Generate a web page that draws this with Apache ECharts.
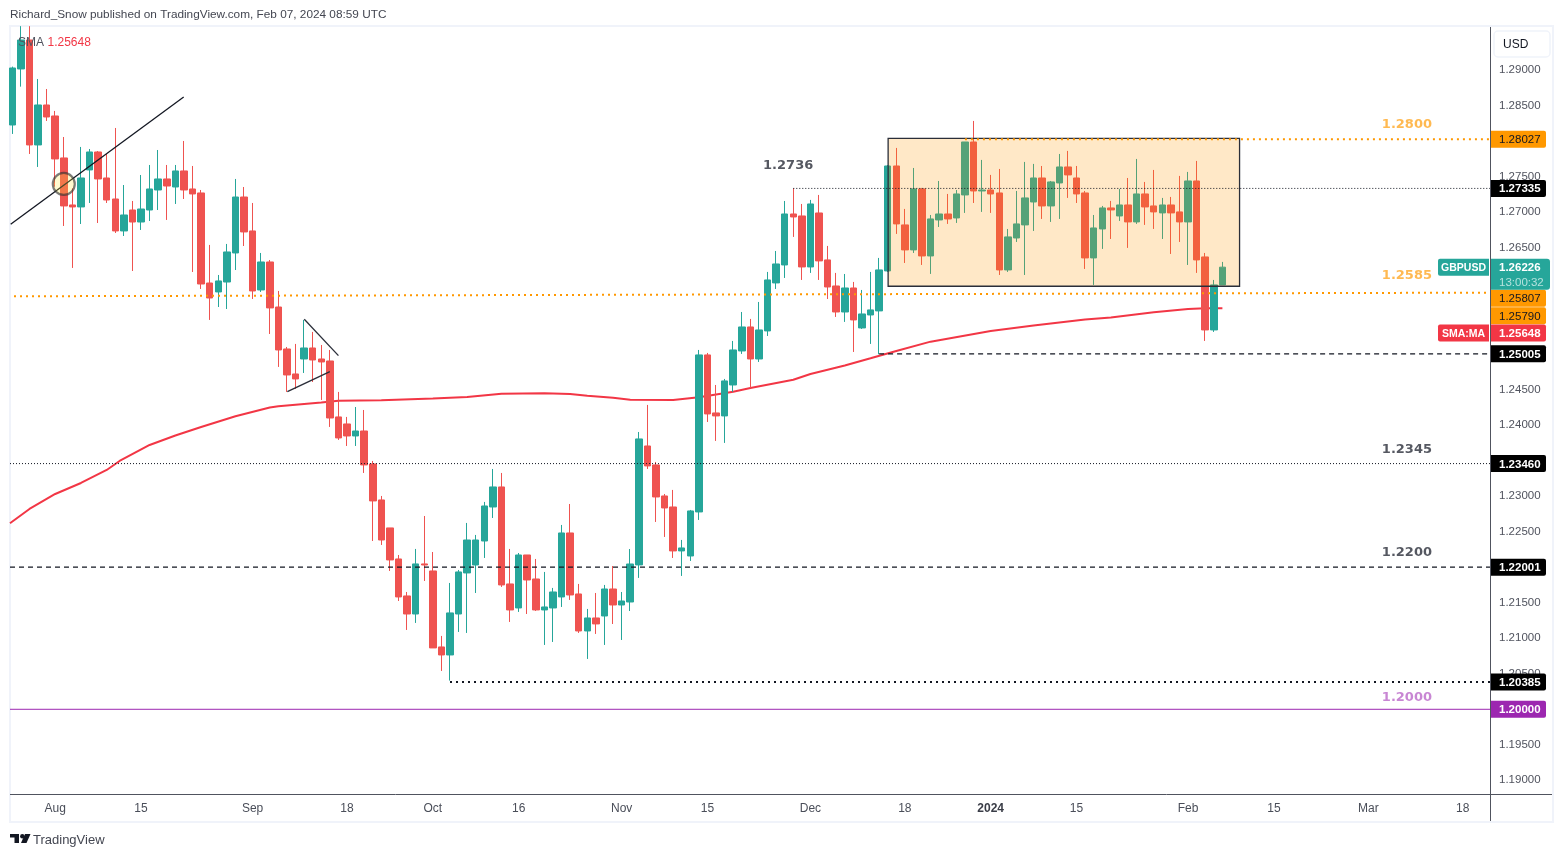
<!DOCTYPE html>
<html><head><meta charset="utf-8">
<style>html,body{margin:0;padding:0;background:#fff}#c{width:1564px;height:857px}</style>
<script src="https://cdn.jsdelivr.net/npm/echarts@6/dist/echarts.min.js"></script>
</head><body><div id="c"></div>
<script>
const opens=[1.28228,1.29017,1.29425,1.27947,1.28510,1.28355,1.27764,1.27102,1.27074,1.27595,
1.27848,1.27482,1.27186,1.26736,1.27031,1.26862,1.27031,1.27313,1.27468,1.27355,
1.27581,1.27327,1.27271,1.26003,1.25877,1.26017,1.26426,1.27214,1.26736,1.25905,
1.26299,1.25665,1.25074,1.24722,1.24933,1.25088,1.24933,1.24905,1.24117,1.24018,
1.23849,1.23919,1.23455,1.22948,1.22554,1.22117,1.21596,1.21342,1.22047,1.21948,
1.20878,1.20765,1.21342,1.21920,1.22032,1.22370,1.22849,1.23131,1.21765,1.21427,
1.22173,1.21835,1.21399,1.21427,1.21582,1.22483,1.21624,1.21103,1.21286,1.21314,
1.21694,1.21469,1.21511,1.22033,1.23708,1.23441,1.23004,1.22849,1.22230,1.22159,
1.22779,1.24990,1.24173,1.24131,1.24567,1.25046,1.25384,1.24933,1.25328,1.26004,
1.26257,1.26975,1.26947,1.26229,1.26989,1.26328,1.25961,1.25595,1.25933,1.25370,
1.25553,1.25610,1.26173,1.27651,1.26821,1.26469,1.27328,1.26384,1.26891,1.26975,
1.26919,1.27243,1.27989,1.27299,1.27313,1.27271,1.26187,1.26637,1.26821,1.27144,
1.27482,1.27088,1.27412,1.27637,1.27482,1.27271,1.26356,1.26764,1.27060,1.26947,
1.27102,1.26863,1.27257,1.27088,1.26990,1.27102,1.27004,1.26863,1.27440,1.26370,
1.25342,1.25976];
const closes=[1.29031,1.29425,1.27947,1.28510,1.28341,1.27750,1.27088,1.27074,1.27482,1.27848,
1.27468,1.27172,1.26736,1.26961,1.26862,1.27045,1.27327,1.27468,1.27369,1.27581,
1.27313,1.27257,1.25989,1.25792,1.26032,1.26440,1.27214,1.26722,1.25891,1.26299,
1.25652,1.25060,1.24708,1.24652,1.25088,1.24919,1.24891,1.24102,1.23821,1.23849,
1.23919,1.23441,1.22934,1.22384,1.22103,1.21582,1.21342,1.22047,1.22032,1.20864,
1.20765,1.21357,1.21934,1.22384,1.22384,1.22863,1.23131,1.21751,1.21399,1.22173,
1.21821,1.21399,1.21441,1.21652,1.22483,1.21610,1.21103,1.21286,1.21202,1.21694,
1.21469,1.21525,1.22046,1.23807,1.23427,1.22990,1.22835,1.22230,1.22272,1.22793,
1.24990,1.24159,1.24131,1.24624,1.25060,1.25384,1.24933,1.25342,1.26046,1.26271,
1.26975,1.26933,1.26229,1.27116,1.26314,1.25947,1.25595,1.25933,1.25483,1.25567,
1.25624,1.26187,1.27651,1.26835,1.26469,1.27328,1.26384,1.26905,1.26975,1.26905,
1.27257,1.27989,1.27299,1.27313,1.27257,1.26187,1.26652,1.26835,1.27201,1.27482,
1.27088,1.27426,1.27637,1.27525,1.27257,1.26356,1.26778,1.27060,1.27032,1.27102,
1.26863,1.27257,1.27074,1.27004,1.27102,1.26990,1.26863,1.27440,1.26328,1.25342,
1.25976,1.26226];
const highs=[1.29050,1.29620,1.29620,1.28876,1.28735,1.28426,1.28059,1.27337,1.27919,1.27890,
1.27862,1.27820,1.28186,1.27383,1.27158,1.27524,1.27665,1.27876,1.27665,1.27665,
1.28003,1.27651,1.27313,1.26539,1.26116,1.26553,1.27468,1.27355,1.27130,1.26426,
1.26327,1.25891,1.25102,1.25145,1.25483,1.25314,1.25130,1.25060,1.24469,1.24117,
1.24257,1.24215,1.23497,1.23004,1.22554,1.22173,1.21652,1.22258,1.22722,1.22215,
1.21033,1.21779,1.21962,1.22624,1.22455,1.22920,1.23384,1.23328,1.22258,1.22201,
1.22173,1.22117,1.21934,1.21709,1.22596,1.22891,1.21765,1.21413,1.21638,1.21751,
1.22018,1.21652,1.22257,1.23905,1.24286,1.23483,1.23032,1.23089,1.22385,1.22807,
1.25060,1.25018,1.24567,1.24652,1.25187,1.25595,1.25497,1.25736,1.26159,1.26454,
1.27158,1.27337,1.27116,1.27173,1.27243,1.26525,1.26145,1.26130,1.26018,1.25905,
1.26159,1.26356,1.27665,1.27905,1.27046,1.27623,1.27342,1.26961,1.27440,1.27257,
1.27313,1.27989,1.28285,1.27736,1.27525,1.27609,1.26764,1.27299,1.27708,1.27680,
1.27651,1.27440,1.27820,1.27863,1.27651,1.27299,1.26961,1.27088,1.27159,1.27328,
1.27482,1.27750,1.27426,1.27595,1.27201,1.27215,1.27511,1.27567,1.27722,1.26426,
1.26046,1.26300];
const lows=[1.28102,1.28768,1.27820,1.27637,1.28285,1.27360,1.26806,1.26215,1.26834,1.27130,
1.26848,1.27130,1.26707,1.26665,1.26172,1.26750,1.26876,1.27031,1.26891,1.27116,
1.27186,1.26158,1.25919,1.25483,1.25665,1.25637,1.26186,1.26524,1.25778,1.25877,
1.25285,1.24821,1.24469,1.24511,1.24736,1.24609,1.24356,1.23976,1.23793,1.23708,
1.23708,1.23328,1.22370,1.22314,1.21948,1.21525,1.21117,1.21216,1.21807,1.20864,
1.20540,1.20404,1.21089,1.21075,1.21638,1.22131,1.22694,1.21723,1.21230,1.21371,
1.21342,1.21385,1.20906,1.20948,1.21441,1.21540,1.21075,1.20709,1.21061,1.20906,
1.21201,1.20976,1.21384,1.21850,1.23384,1.22638,1.22427,1.22131,1.21878,1.22089,
1.22666,1.24046,1.23779,1.23751,1.24469,1.25004,1.24525,1.24891,1.25257,1.25919,
1.26074,1.26652,1.26046,1.26145,1.26046,1.25778,1.25525,1.25455,1.25032,1.25356,
1.25145,1.24999,1.26159,1.26694,1.26285,1.26426,1.26257,1.26131,1.26792,1.26835,
1.26849,1.26990,1.27130,1.27004,1.26990,1.26116,1.26159,1.26581,1.26116,1.26736,
1.26905,1.26863,1.26905,1.27201,1.27130,1.26201,1.25976,1.26483,1.26623,1.26877,
1.26497,1.26835,1.26821,1.26764,1.26623,1.26412,1.26581,1.26257,1.26145,1.25187,
1.25314,1.25976];
const smaAt=[-0.27,2,5,8,11,12.5,16,19,22,26,30,31,36,38,43,49,53,57,62,65,67,70,72,77,80,84,86,91,93,97,100,103,107,114,119,125,128,133,137,139,141];
const smaValues=[1.22619,1.22821,1.23032,1.23187,1.23370,1.23497,1.23722,1.23856,1.23976,1.24126,1.24250,1.24267,1.24319,1.24345,1.24352,1.24376,1.24397,1.24445,1.24450,1.24440,1.24415,1.24387,1.24360,1.24356,1.24394,1.24473,1.24525,1.24640,1.24722,1.24842,1.24943,1.25046,1.25177,1.25328,1.25405,1.25490,1.25518,1.25591,1.25637,1.25646,1.25648];
const xTickAt=[5,15,28,39,49,59,71,81,93,104,114,124,137,147,158,169];
const xTickLabels=['Aug','15','Sep','18','Oct','16','Nov','15','Dec','18','2024','15','Feb','15','Mar','18'];
const yTicks=[1.19,1.195,1.2,1.205,1.21,1.215,1.22,1.225,1.23,1.235,1.24,1.245,1.25,1.255,1.26,1.265,1.27,1.275,1.28,1.285,1.29];

const UP='#26a69a',DOWN='#ef5350',ORANGE='#ff9800',BLACK='#131722',PURPLE='#9c27b0';
const XMIN=-0.268,XMAX=172.18,YMIN=1.18793,YMAX=1.29608;
const FONT='"Liberation Sans",Arial,sans-serif';

const segments=[
 {from:[0.2,1.25816],to:[XMAX,1.25867],color:ORANGE,width:2,dash:[2,4]},
 {from:[111,1.28027],to:[XMAX,1.28027],color:ORANGE,width:2,dash:[2,4]},
 {from:[91,1.27335],to:[XMAX,1.27335],color:BLACK,width:1,dash:[1,2]},
 {from:[101,1.25005],to:[XMAX,1.25005],color:BLACK,width:1.3,dash:[5,4]},
 {from:[XMIN,1.2346],to:[XMAX,1.2346],color:BLACK,width:1,dash:[1,2]},
 {from:[XMIN,1.22001],to:[XMAX,1.22001],color:BLACK,width:1.3,dash:[5,4]},
 {from:[51,1.20385],to:[XMAX,1.20385],color:BLACK,width:2,dash:[2,4]},
 {from:[XMIN,1.2],to:[XMAX,1.2],color:PURPLE,width:1,dash:'solid'},
 {from:[-0.19,1.2683],to:[19.97,1.28623],color:BLACK,width:1.3,dash:'solid'},
 {from:[34.02,1.25492],to:[38,1.2498],color:'#2a2e39',width:1.3,dash:'solid'},
 {from:[32.05,1.24473],to:[37,1.24754],color:'#2a2e39',width:1.3,dash:'solid'}
];
const noteTexts=[
 {t:'1.2800',x:162.5,y:1.2823,c:'#ffa726'},
 {t:'1.2585',x:162.5,y:1.26103,c:'#ffa726'},
 {t:'1.2736',x:90.4,y:1.27651,c:'#2a2e39'},
 {t:'1.2345',x:162.5,y:1.23652,c:'#2a2e39'},
 {t:'1.2200',x:162.5,y:1.22201,c:'#2a2e39'},
 {t:'1.2000',x:162.5,y:1.20159,c:'#ba68c8'}
];
const priceTags=[
 {t:'1.28027',p:1.28027,bg:ORANGE,fg:'#131722',shift:0},
 {t:'1.27335',p:1.27335,bg:'#000',fg:'#fff',b:1,shift:0},
 {t:'1.25807',p:1.25807,bg:ORANGE,fg:'#131722',shift:1.4},
 {t:'1.25790',p:1.2579,bg:ORANGE,fg:'#131722',shift:17.7},
 {t:'1.25648',p:1.25648,bg:'#f23645',fg:'#fff',b:1,shift:24.7,side:'SMA:MA'},
 {t:'1.25005',p:1.25005,bg:'#000',fg:'#fff',b:1,shift:0},
 {t:'1.23460',p:1.2346,bg:'#000',fg:'#fff',b:1,shift:0},
 {t:'1.22001',p:1.22001,bg:'#000',fg:'#fff',b:1,shift:0},
 {t:'1.20385',p:1.20385,bg:'#000',fg:'#fff',b:1,shift:0},
 {t:'1.20000',p:1.2,bg:PURPLE,fg:'#fff',b:1,shift:0},
 {t:'1.26226',p:1.26226,bg:UP,fg:'#fff',b:1,shift:0,side:'GBPUSD',sub:'13:00:32'}
];

const candleData=opens.map((o,i)=>[i,o,closes[i],lows[i],highs[i]]);

const chart=echarts.init(document.getElementById('c'),null,{renderer:'canvas'});
chart.setOption({
 animation:false,
 backgroundColor:'#fff',
 grid:{left:10,top:27,right:74,bottom:62,containLabel:false},
 xAxis:{type:'value',min:XMIN,max:XMAX,
  axisLine:{show:false},axisTick:{show:false},splitLine:{show:false},
  axisLabel:{customValues:xTickAt,margin:8,color:'#4a4e59',fontFamily:FONT,fontSize:12,
   formatter:v=>{const s=xTickLabels[xTickAt.indexOf(v)];return s==='2024'?'{b|2024}':s;},
   rich:{b:{fontWeight:'bold',color:'#3a3d47',fontFamily:FONT,fontSize:12}}}},
 yAxis:{type:'value',position:'right',min:YMIN,max:YMAX,
  axisLine:{show:false},axisTick:{show:false},splitLine:{show:false},
  axisLabel:{customValues:yTicks,margin:9,color:'#50535e',fontFamily:FONT,fontSize:11.5,
   padding:[2,0,0,0],formatter:v=>v.toFixed(5)}},
 series:[
  {name:'SMA',type:'line',z:1,symbol:'none',silent:true,
   data:smaAt.map((x,i)=>[x,smaValues[i]]),lineStyle:{color:'#f23645',width:2}},
  {name:'GBPUSD',type:'candlestick',z:2,barWidth:7,silent:true,
   encode:{x:0,y:[1,2,3,4]},data:candleData,
   itemStyle:{color:UP,color0:DOWN,borderColor:UP,borderColor0:DOWN,borderWidth:1}},
  {name:'box',type:'line',z:4,data:[],silent:true,
   markArea:{z:4,silent:true,
    itemStyle:{color:'rgba(255,152,0,0.22)',borderColor:'#2a2e39',borderWidth:1.3},
    data:[[{coord:[102.05,1.28041]},{coord:[143,1.25957]}]]}},
  ...segments.map((s,i)=>({name:'seg'+i,type:'line',z:5,symbol:'none',silent:true,
    data:[s.from,s.to],lineStyle:{color:s.color,width:s.width,type:s.dash}})),
  {name:'marker',type:'scatter',z:6,silent:true,data:[[6,1.27398]],symbolSize:22,
   itemStyle:{color:'rgba(255,235,59,0.3)',borderColor:'rgba(50,50,50,0.8)',borderWidth:2.2}},
  {name:'notes',type:'scatter',z:7,silent:true,symbolSize:1,itemStyle:{color:'transparent'},
   data:noteTexts.map(n=>({value:[n.x,n.y],label:{show:true,position:'inside',formatter:n.t,color:n.c,
     fontFamily:'"DejaVu Sans",sans-serif',fontWeight:'bold',fontSize:13}}))},
  {name:'tags',type:'custom',z:8,silent:true,clip:false,
   data:priceTags.map(t=>[XMAX,t.p]),
   renderItem:(params,api)=>{
    const t=priceTags[params.dataIndex];
    const c=api.coord([XMAX,t.p]);
    const y=c[1]+t.shift, kids=[];
    const font=(t.b?'bold ':'')+'11.5px '+FONT;
    if(t.sub){
     kids.push({type:'rect',shape:{x:1490,y:y-8.5,width:60,height:31,r:[0,3,3,0]},style:{fill:t.bg}});
     kids.push({type:'text',style:{text:t.sub,x:1499,y:y+15.3,fill:'#b5e2dd',font:'11.5px '+FONT,align:'left',verticalAlign:'middle'}});
    }else{
     kids.push({type:'rect',shape:{x:1490,y:y-8.5,width:56,height:17,r:[0,2,2,0]},style:{fill:t.bg}});
    }
    kids.push({type:'text',style:{text:t.t,x:1499,y:y+0.8,fill:t.fg,font:font,align:'left',verticalAlign:'middle'}});
    if(t.side){
     kids.push({type:'rect',shape:{x:1438,y:y-8.5,width:51,height:17,r:[2,0,0,2]},style:{fill:t.bg}});
     kids.push({type:'text',style:{text:t.side,x:1463.5,y:y+0.8,fill:'#fff',font:'bold 10.5px '+FONT,align:'center',verticalAlign:'middle'}});
    }
    return {type:'group',children:kids};
   }}
 ],
 graphic:[
  {type:'rect',z:-1,silent:true,shape:{x:10,y:26,width:1543,height:796},style:{fill:'none',stroke:'#f0f3fa',lineWidth:2}},
  {type:'line',z:20,silent:true,shape:{x1:1490.5,y1:27,x2:1490.5,y2:821},style:{stroke:'#50535e',lineWidth:1}},
  {type:'line',z:20,silent:true,shape:{x1:10,y1:794.5,x2:1552,y2:794.5},style:{stroke:'#50535e',lineWidth:1}},
  {type:'text',z:20,silent:true,style:{text:'Richard_Snow published on TradingView.com, Feb 07, 2024 08:59 UTC',x:10,y:15,fill:'#434651',font:'11.8px '+FONT,align:'left',verticalAlign:'middle'}},
  {type:'text',z:20,silent:true,style:{text:'SMA',x:18,y:43,fill:'#50535e',font:'12px '+FONT,align:'left',verticalAlign:'middle'}},
  {type:'text',z:20,silent:true,style:{text:'1.25648',x:47.5,y:43,fill:'#f23645',font:'12px '+FONT,align:'left',verticalAlign:'middle'}},
  {type:'rect',z:20,silent:true,shape:{x:1494,y:31,width:56,height:26,r:4},style:{fill:'#fff',stroke:'#f0f3fa',lineWidth:1.5}},
  {type:'text',z:21,silent:true,style:{text:'USD',x:1503,y:45,fill:'#131722',font:'12px '+FONT,align:'left',verticalAlign:'middle'}},
  {type:'polygon',z:20,silent:true,shape:{points:[[10,834],[19,834],[19,843],[14.5,843],[14.5,837.5],[10,837.5]]},style:{fill:'#131722'}},
  {type:'polygon',z:20,silent:true,shape:{points:[[25,834],[30.5,834],[26.5,843],[21,843]]},style:{fill:'#131722'}},
  {type:'circle',z:20,silent:true,shape:{cx:22.3,cy:836.2,r:2.2},style:{fill:'#131722'}},
  {type:'text',z:20,silent:true,style:{text:'TradingView',x:33,y:840,fill:'#434651',font:'13px '+FONT,align:'left',verticalAlign:'middle'}}
 ]
});
</script></body></html>
